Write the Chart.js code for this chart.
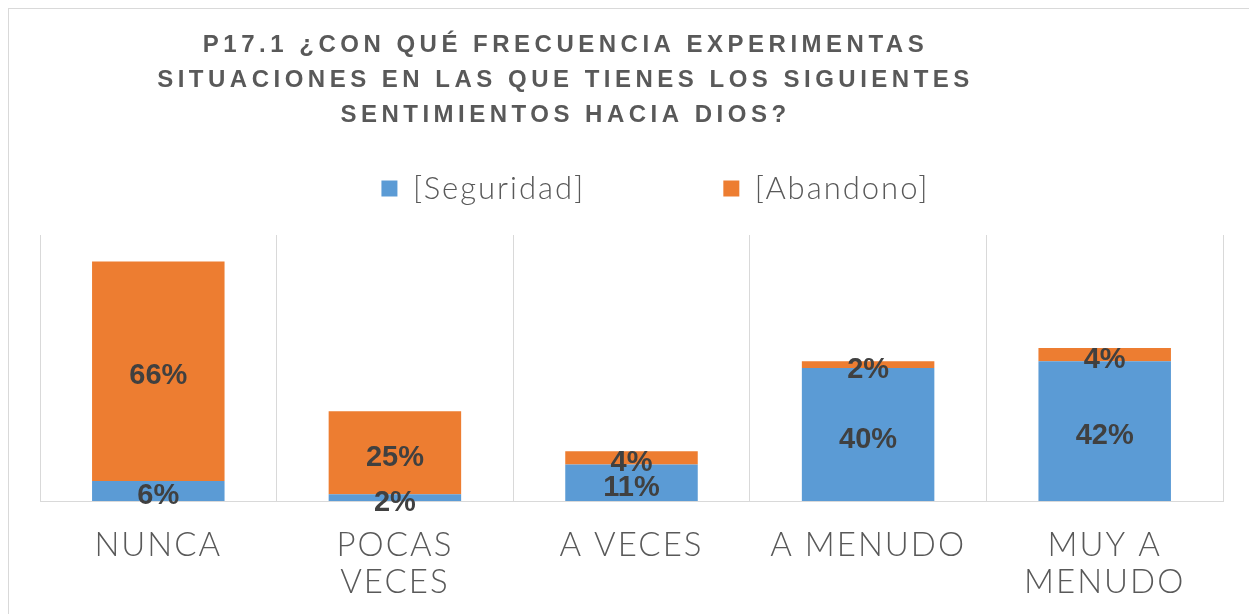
<!DOCTYPE html>
<html>
<head>
<meta charset="utf-8">
<script src="https://cdn.jsdelivr.net/npm/chart.js@4/dist/chart.umd.min.js"></script>
<style>
  html, body { margin: 0; padding: 0; background: #fff; }
  #grafico { display: block; }
</style>
</head>
<body>
<canvas id="grafico" width="1249" height="614"></canvas>
<script>
// =====================
// Datos
// =====================
const categorias = [["NUNCA"], ["POCAS", "VECES"], ["A VECES"], ["A MENUDO"], ["MUY A", "MENUDO"]];
const seguridad = [6, 2, 11, 40, 42];
const abandono = [66, 25, 4, 2, 4];
const nombresSeries = ["[Seguridad]", "[Abandono]"];
const titulo = [
  "P17.1 ¿CON QUÉ FRECUENCIA EXPERIMENTAS",
  "SITUACIONES EN LAS QUE TIENES LOS SIGUIENTES",
  "SENTIMIENTOS HACIA DIOS?",
];

const AZUL = "#5b9bd5";
const NARANJA = "#ed7d31";
const GRIS_TEXTO = "#595959";
const GRIS_LINEA = "#d9d9d9";

// envuelve un método de dibujo para aplicar espaciado entre letras
function conEspaciado(obj, metodo, px) {
  if (!obj || obj["_esp_" + metodo]) return;
  const original = obj[metodo];
  obj[metodo] = function (...args) {
    const ctx = this.ctx;
    const prev = ctx.letterSpacing;
    ctx.letterSpacing = px;
    const r = original.apply(this, args);
    ctx.letterSpacing = prev || "0px";
    return r;
  };
  obj["_esp_" + metodo] = true;
}

// =====================
// Plugins
// =====================
const fondo = {
  id: "fondo",
  beforeDraw(chart) {
    const { ctx, width, height } = chart;
    ctx.save();
    ctx.fillStyle = "#fff";
    ctx.fillRect(0, 0, width, height);
    ctx.strokeStyle = GRIS_LINEA;
    ctx.lineWidth = 1;
    ctx.strokeRect(8.5, 8.5, width + 20, height + 20);
    ctx.restore();
  },
};

const ajusteCajas = {
  id: "ajusteCajas",
  afterLayout(chart) {
    const t = chart.titleBlock;
    t.left -= 66;
    t.right -= 66;
    const l = chart.legend;
    l.left += 3;
    l.right += 3;
    l.top = 35;
    l.bottom = 235;
    conEspaciado(t, "draw", "4.5px");
    conEspaciado(l, "draw", "2px");
    conEspaciado(chart.scales.x, "drawLabels", "2px");
  },
};

const etiquetas = {
  id: "etiquetas",
  afterDatasetsDraw(chart) {
    const ctx = chart.ctx;
    ctx.save();
    ctx.font = "bold 29px 'Liberation Sans', Arial, sans-serif";
    ctx.fillStyle = "#404040";
    ctx.textAlign = "center";
    ctx.textBaseline = "middle";
    chart.data.datasets.forEach((ds, i) => {
      const meta = chart.getDatasetMeta(i);
      meta.data.forEach((barra, j) => {
        const c = barra.getCenterPoint();
        ctx.fillText(ds.data[j] + "%", c.x, c.y + 5);
      });
    });
    ctx.restore();
  },
};

// =====================
// Gráfico
// =====================
const ctx = document.getElementById("grafico").getContext("2d");

new Chart(ctx, {
  type: "bar",
  data: {
    labels: categorias,
    datasets: [
      {
        label: nombresSeries[0],
        data: seguridad,
        backgroundColor: AZUL,
        borderWidth: 0,
        barPercentage: 0.56,
        categoryPercentage: 1.0,
      },
      {
        label: nombresSeries[1],
        data: abandono,
        backgroundColor: NARANJA,
        borderWidth: 0,
        barPercentage: 0.56,
        categoryPercentage: 1.0,
      },
    ],
  },
  options: {
    responsive: false,
    animation: false,
    layout: { padding: { top: 0, left: 40, right: 26, bottom: -13 } },
    scales: {
      x: {
        stacked: true,
        grid: { color: GRIS_LINEA, drawTicks: false, offset: true },
        border: { color: GRIS_LINEA },
        ticks: {
          color: GRIS_TEXTO,
          padding: 26,
          maxRotation: 0,
          autoSkip: false,
          font: { family: "Lato, 'Liberation Sans', sans-serif", weight: 300, size: 33, lineHeight: 37 / 33 },
        },
      },
      y: {
        stacked: true,
        display: false,
        min: 0,
        max: 80,
      },
    },
    plugins: {
      title: {
        display: true,
        text: titulo,
        color: GRIS_TEXTO,
        font: { family: "'Liberation Sans', Arial, sans-serif", weight: "bold", size: 24, lineHeight: 35 / 24 },
        padding: { top: 28, bottom: 0 },
      },
      legend: {
        position: "top",
        maxHeight: 102,
        labels: {
          color: GRIS_TEXTO,
          boxWidth: 16,
          boxHeight: 16,
          padding: 138,
          font: { family: "Lato, 'Liberation Sans', sans-serif", weight: 300, size: 31 },
        },
      },
      tooltip: { enabled: false },
    },
  },
  plugins: [fondo, ajusteCajas, etiquetas],
});
</script>
</body>
</html>
